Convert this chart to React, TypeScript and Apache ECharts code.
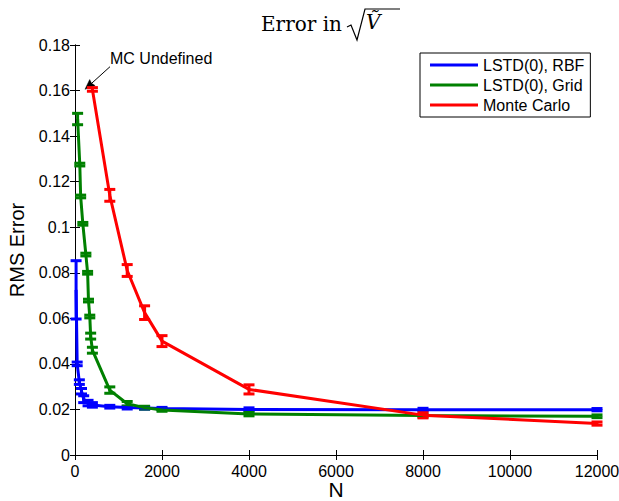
import React, { useEffect, useRef } from "react";
import * as echarts from "echarts";

// ---- data ----
const nRBF = [25, 50, 100, 150, 200, 300, 400, 800, 1200, 1600, 2000, 4000, 8000, 12000];
const rmsRBF = [0.0725, 0.040, 0.032, 0.028, 0.0245, 0.0228, 0.022, 0.0212, 0.0208, 0.0206, 0.0204, 0.0200, 0.0199, 0.0199];
const errRBF = [0.0128, 0.0008, 0.0010, 0.0012, 0.0015, 0.0012, 0.0010, 0.0006, 0.0006, 0.0005, 0.0005, 0.0007, 0.0006, 0.0005];

const nGrid = [60, 110, 130, 180, 250, 290, 310, 340, 360, 400, 800, 1200, 1600, 2000, 4000, 8000, 12000];
const rmsGrid = [0.1475, 0.1275, 0.1135, 0.1015, 0.088, 0.080, 0.0678, 0.0608, 0.0522, 0.046, 0.0285, 0.0225, 0.0208, 0.0198, 0.018, 0.0173, 0.0170];
const errGrid = [0.0025, 0.0006, 0.0006, 0.0006, 0.0006, 0.0006, 0.0006, 0.0006, 0.0013, 0.0013, 0.0014, 0.0010, 0.0006, 0.0006, 0.0008, 0.0006, 0.0006];

const nMC = [400, 800, 1200, 1600, 2000, 4000, 8000, 12000];
const rmsMC = [0.1605, 0.114, 0.081, 0.0625, 0.050, 0.0288, 0.0175, 0.0138];
const errMC = [0.0008, 0.0026, 0.0026, 0.003, 0.0024, 0.002, 0.0012, 0.0007];

const seriesNames = ["LSTD(0), RBF", "LSTD(0), Grid", "Monte Carlo"];
const seriesColors = ["#0000ff", "#008000", "#ff0000"];
const xTicks = { min: 0, max: 12000, interval: 2000 };
const yTicks = { min: 0, max: 0.18, interval: 0.02 };

const FONT = "'Liberation Sans', Arial, Helvetica, sans-serif";

function lineSeries(name: string, color: string, n: number[], v: number[]) {
  return {
    name,
    type: "line",
    data: n.map((x, i) => [x, v[i]]),
    showSymbol: false,
    symbol: "none",
    lineStyle: { color, width: 3 },
    itemStyle: { color },
    z: 2,
  };
}

function errSeries(name: string, color: string, n: number[], v: number[], e: number[]) {
  return {
    name: name + " err",
    type: "custom",
    data: n.map((x, i) => [x, v[i] - e[i], v[i] + e[i]]),
    encode: { x: 0, y: [1, 2] },
    z: 2,
    renderItem: (params: any, api: any) => {
      const x = api.value(0);
      const lo = api.coord([x, api.value(1)]);
      const hi = api.coord([x, api.value(2)]);
      const w = 5.5;
      const st = { stroke: color, lineWidth: 3 };
      return {
        type: "group",
        children: [
          { type: "line", shape: { x1: lo[0], y1: lo[1], x2: hi[0], y2: hi[1] }, style: st },
          { type: "line", shape: { x1: lo[0] - w, y1: lo[1], x2: lo[0] + w, y2: lo[1] }, style: st },
          { type: "line", shape: { x1: hi[0] - w, y1: hi[1], x2: hi[0] + w, y2: hi[1] }, style: st },
        ],
      };
    },
  };
}

export default function App() {
  const ref = useRef<HTMLDivElement>(null);
  useEffect(() => {
    document.body.style.margin = "0";
    const chart = echarts.init(ref.current!, undefined, { renderer: "svg" });
    const axisCommon = {
      axisLine: { show: true, lineStyle: { color: "#000", width: 1 } },
      axisTick: { show: true, inside: true, length: 5, lineStyle: { color: "#000" } },
      splitLine: { show: false },
    };
    const option: any = {
      animation: false,
      backgroundColor: "#fff",
      grid: { left: 75, right: 22, top: 45, bottom: 46, show: false, containLabel: false, outerBoundsMode: "none" },
      xAxis: [
        {
          type: "value",
          ...xTicks,
          ...axisCommon,
          axisLabel: { color: "#000", fontSize: 16, fontFamily: FONT, margin: 8, formatter: (v: number) => String(v) },
        },
        {
          type: "value",
          position: "top",
          ...xTicks,
          ...axisCommon,
          axisLabel: { show: false },
        },
      ],
      yAxis: [
        {
          type: "value",
          ...yTicks,
          ...axisCommon,
          axisLabel: {
            color: "#000",
            fontSize: 16,
            fontFamily: FONT,
            margin: 5,
            formatter: (v: number) => String(+v.toFixed(2)),
          },
          name: "RMS Error",
          nameLocation: "middle",
          nameGap: 48,
          nameTextStyle: { color: "#000", fontSize: 20, fontFamily: FONT },
        },
        {
          type: "value",
          position: "right",
          ...yTicks,
          ...axisCommon,
          axisLabel: { show: false },
        },
      ],
      legend: {
        data: seriesNames,
        orient: "vertical",
        left: 420,
        top: 53,
        itemWidth: 48,
        itemHeight: 3,
        itemGap: 4,
        icon: "rect",
        padding: [4, 6, 4, 10],
        borderColor: "#000",
        borderWidth: 1,
        backgroundColor: "#fff",
        textStyle: { color: "#000", fontSize: 16, fontFamily: FONT },
        z: 10,
      },
      series: [
        lineSeries(seriesNames[0], seriesColors[0], nRBF, rmsRBF),
        errSeries(seriesNames[0], seriesColors[0], nRBF, rmsRBF, errRBF),
        lineSeries(seriesNames[1], seriesColors[1], nGrid, rmsGrid),
        errSeries(seriesNames[1], seriesColors[1], nGrid, rmsGrid, errGrid),
        lineSeries(seriesNames[2], seriesColors[2], nMC, rmsMC),
        errSeries(seriesNames[2], seriesColors[2], nMC, rmsMC, errMC),
      ],
      graphic: [
        {
          type: "text",
          x: 336,
          y: 479,
          style: { text: "N", fill: "#000", fontSize: 21, fontFamily: FONT, align: "center", verticalAlign: "top" },
        },
        {
          type: "text",
          left: 261,
          top: 14,
          style: { text: "Error in", fill: "#000", fontSize: 20, fontFamily: "'DejaVu Serif', serif" },
        },
        {
          type: "text",
          left: 366,
          top: 12,
          style: { text: "Ṽ", fill: "#000", fontSize: 20, fontStyle: "italic", fontFamily: "'DejaVu Serif', serif" },
        },
        {
          type: "polyline",
          shape: { points: [[347, 27], [351, 25], [357, 40], [365, 9], [400, 9]] },
          style: { stroke: "#000", lineWidth: 1.2, fill: "none" },
        },
        {
          type: "text",
          left: 110,
          top: 50,
          style: { text: "MC Undefined", fill: "#000", fontSize: 16, fontFamily: FONT },
        },
        {
          type: "line",
          shape: { x1: 110, y1: 66.7, x2: 90, y2: 84.8 },
          style: { stroke: "#000", lineWidth: 1 },
        },
        {
          type: "polygon",
          shape: { points: [[85, 89.3], [95.1, 85.6], [91.5, 83.3], [89.7, 79.6]] },
          style: { fill: "#000", stroke: "#000", lineWidth: 0.5 },
        },
      ],
    };
    chart.setOption(option);
    return () => chart.dispose();
  }, []);
  return <div ref={ref} style={{ width: 619, height: 501 }} />;
}
